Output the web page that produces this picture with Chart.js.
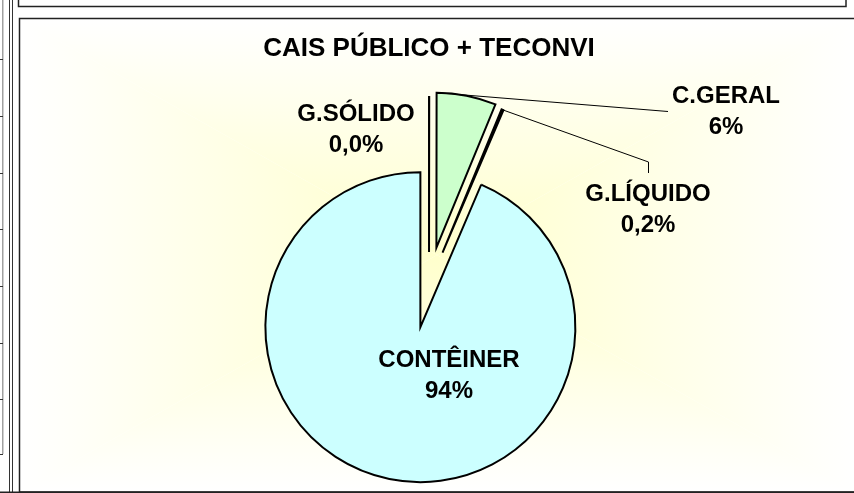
<!DOCTYPE html>
<html><head><meta charset="utf-8">
<script src="https://cdn.jsdelivr.net/npm/chart.js@4/dist/chart.umd.min.js"></script>
<style>html,body{margin:0;padding:0;background:#fff;overflow:hidden}#wrap{position:absolute;left:0;top:0;width:854px;height:493px}canvas{display:block}</style>
</head><body><div id="wrap"><canvas id="c" width="854" height="493"></canvas></div>
<script>
// ---- data ----
const categories = ['G.SÓLIDO', 'C.GERAL', 'G.LÍQUIDO', 'CONTÊINER'];
const shares = [0.02, 6.2, 0.2, 93.58];
const percentLabels = ['0,0%', '6%', '0,2%', '94%'];
const chartTitle = 'CAIS PÚBLICO + TECONVI';

// ---- styles ----
const sliceColors = ['#FFFFCC', '#CCFFCC', '#CC0000', '#CCFFFF'];
const explode = [33, 38, 35, 43];
const labelPos = [[356, 121], [726, 103], [648, 201], [449, 367]];
const FONT = '"Liberation Sans", Arial, Helvetica, sans-serif';

const framePlugin = {
  id: 'frame',
  beforeDraw(chart) {
    const ctx = chart.ctx;
    ctx.save();
    ctx.fillStyle = '#fff';
    ctx.fillRect(0, 0, 854, 493);
    // rectangular "from centre" gradient in the chart box
    const L = 20, T = 19, R = 856, B = 492;
    const cx = 437, cy = 255;
    const c0 = '#FFFFCC', c1 = '#FFFFFF';
    const tris = [
      [[L, T], [L, B], [L, cy]],
      [[R, T], [R, B], [R, cy]],
      [[L, T], [R, T], [cx, T]],
      [[L, B], [R, B], [cx, B]]
    ];
    tris.forEach(t => {
      ctx.save();
      ctx.beginPath();
      ctx.moveTo(cx, cy); ctx.lineTo(t[0][0], t[0][1]); ctx.lineTo(t[1][0], t[1][1]); ctx.closePath();
      ctx.clip();
      const g = ctx.createLinearGradient(cx, cy, t[2][0], t[2][1]);
      g.addColorStop(0, c0); g.addColorStop(1, c1);
      ctx.fillStyle = g;
      ctx.fillRect(L, T, R - L, B - T);
      ctx.restore();
    });
    // spreadsheet strip on the left
    ctx.strokeStyle = '#a0a0a0'; ctx.lineWidth = 1;
    ctx.beginPath(); ctx.moveTo(2.5, 0); ctx.lineTo(2.5, 454); ctx.stroke();
    ctx.strokeStyle = '#d0d0d0';
    ctx.beginPath(); ctx.moveTo(3.5, 0); ctx.lineTo(3.5, 454); ctx.stroke();
    ctx.strokeStyle = '#333';
    [59, 116, 173, 229, 286, 343, 399, 454].forEach(y => {
      ctx.beginPath(); ctx.moveTo(0, y + 0.5); ctx.lineTo(3, y + 0.5); ctx.stroke();
    });
    ctx.beginPath(); ctx.moveTo(9.5, 0); ctx.lineTo(9.5, 493); ctx.stroke();
    ctx.beginPath(); ctx.moveTo(12.5, 0); ctx.lineTo(12.5, 493); ctx.stroke();
    // top box
    ctx.strokeStyle = '#222'; ctx.lineWidth = 1.5;
    ctx.strokeRect(18.5, -10, 827.5, 16.5);
    // chart box
    ctx.strokeRect(19.5, 18.5, 850, 473.5);
    ctx.lineWidth = 1.5;
    ctx.beginPath(); ctx.moveTo(0, 492.2); ctx.lineTo(854, 492.2); ctx.stroke();
    ctx.restore();
  }
};

const explodePlugin = {
  id: 'explode',
  afterDatasetsUpdate(chart) {
    const meta = chart.getDatasetMeta(0);
    meta.data.forEach((arc, i) => {
      const mid = (arc.startAngle + arc.endAngle) / 2;
      arc.x += Math.cos(mid) * explode[i];
      arc.y += Math.sin(mid) * explode[i];
    });
  }
};

const labelPlugin = {
  id: 'sliceLabels',
  afterDatasetsDraw(chart) {
    const ctx = chart.ctx;
    const arcs = chart.getDatasetMeta(0).data;
    ctx.save();
    // leader lines
    ctx.strokeStyle = '#000'; ctx.lineWidth = 1;
    const g = arcs[1];
    ctx.beginPath();
    ctx.moveTo(g.x + Math.cos(g.startAngle) * g.outerRadius, g.y + Math.sin(g.startAngle) * g.outerRadius);
    ctx.lineTo(668, 111.5);
    ctx.stroke();
    const q = arcs[2];
    const qm = (q.startAngle + q.endAngle) / 2;
    ctx.beginPath();
    ctx.moveTo(q.x + Math.cos(qm) * q.outerRadius, q.y + Math.sin(qm) * q.outerRadius);
    ctx.lineTo(648.5, 162);
    ctx.lineTo(648.5, 173);
    ctx.stroke();
    // texts
    ctx.fillStyle = '#000';
    ctx.font = 'bold 24px ' + FONT;
    ctx.textAlign = 'center';
    ctx.textBaseline = 'alphabetic';
    categories.forEach((c, i) => {
      const [x, y] = labelPos[i];
      ctx.fillText(c, x, y);
      ctx.fillText(percentLabels[i], x, y + 31);
    });
    ctx.restore();
  }
};

new Chart(document.getElementById('c'), {
  type: 'pie',
  data: {
    labels: categories,
    datasets: [{
      data: shares,
      backgroundColor: sliceColors,
      borderColor: '#000',
      borderWidth: 2,
      borderJoinStyle: 'miter'
    }]
  },
  options: {
    responsive: false,
    animation: false,
    events: [],
    radius: 155,
    layout: { padding: { left: 229, right: 225, top: 20, bottom: 0 } },
    plugins: {
      legend: { display: false },
      tooltip: { enabled: false },
      title: {
        display: true,
        text: chartTitle,
        color: '#000',
        font: { family: FONT, size: 26, weight: 'bold', lineHeight: 1.2 },
        padding: { top: 13.4, bottom: 12.4 }
      }
    }
  },
  plugins: [framePlugin, explodePlugin, labelPlugin]
});
</script>
</body></html>
